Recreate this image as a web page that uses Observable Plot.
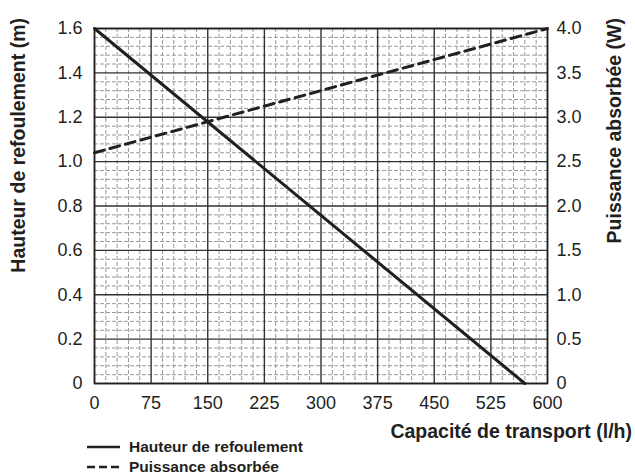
<!DOCTYPE html>
<html><head><meta charset="utf-8">
<script src="https://cdn.jsdelivr.net/npm/d3@7"></script>
<script src="https://cdn.jsdelivr.net/npm/@observablehq/plot@0.6"></script>
<style>body{margin:0;background:#fff}</style>
</head><body><div id="chart"></div>
<script>
// Data
const capacite = [0, 570];            // l/h
const hauteur = [1.6, 0];             // m
const capacitePuissance = [0, 600];   // l/h
const puissance = [2.6, 4.0];         // W
const xTicks = [0, 75, 150, 225, 300, 375, 450, 525, 600];
const yTicksLeft = [0, 0.2, 0.4, 0.6, 0.8, 1.0, 1.2, 1.4, 1.6];
const yTicksRight = [0, 0.5, 1.0, 1.5, 2.0, 2.5, 3.0, 3.5, 4.0];
const ratio = 2.5; // right axis value per left axis unit
const xTitle = "Capacité de transport (l/h)";
const yTitleLeft = "Hauteur de refoulement (m)";
const yTitleRight = "Puissance absorbée (W)";
const legendLabels = ["Hauteur de refoulement", "Puissance absorbée"];

const hauteurData = capacite.map((c, i) => ({c, v: hauteur[i]}));
const puissanceData = capacitePuissance.map((c, i) => ({c, v: puissance[i] / ratio}));
const xMinor = d3.range(0, 601, 15).filter(v => !xTicks.includes(v));
const yMinor = d3.range(0, 41).filter(i => i % 5 !== 0).map(i => i * 0.04);

const ink = "#231f20";
const fmt = d => d === 0 ? "0" : d.toFixed(1);

const plot = Plot.plot({
  width: 635, height: 476,
  marginLeft: 94, marginRight: 88, marginTop: 28, marginBottom: 93,
  style: {fontFamily: "'Liberation Sans', Arial, sans-serif", fontSize: "18px", color: ink, background: "#fff"},
  x: {domain: [0, 600]},
  y: {domain: [0, 1.6]},
  marks: [
    Plot.ruleX(xMinor, {stroke: "#999", strokeWidth: 1, strokeDasharray: "4,2"}),
    Plot.ruleY(yMinor, {stroke: "#999", strokeWidth: 1, strokeDasharray: "4,2"}),
    Plot.ruleX(xTicks, {stroke: "#333", strokeWidth: 1.4}),
    Plot.ruleY(yTicksLeft, {stroke: "#333", strokeWidth: 1.4}),
    Plot.frame({stroke: ink, strokeWidth: 1.6}),
    Plot.line(hauteurData, {x: "c", y: "v", stroke: ink, strokeWidth: 3}),
    Plot.line(puissanceData, {x: "c", y: "v", stroke: ink, strokeWidth: 3, strokeDasharray: "10,6"}),
    Plot.axisX({ticks: xTicks, tickSize: 0, tickPadding: 13, label: null, fill: ink}),
    Plot.axisY({ticks: yTicksLeft, tickSize: 0, tickPadding: 12, tickFormat: fmt, label: null, fill: ink}),
    Plot.axisY({anchor: "right", ticks: yTicksRight.map(v => v / ratio), tickSize: 0, tickPadding: 9,
      tickFormat: d => fmt(Math.round(d * ratio * 10) / 10), label: null, fill: ink})
  ]
});

const svg = d3.select(plot);
const titleStyle = s => s.attr("font-family", "'Liberation Sans', Arial, sans-serif")
  .attr("font-weight", "bold").attr("font-size", 19.5).attr("fill", ink);
svg.append("text").call(titleStyle).attr("text-anchor", "end")
  .attr("x", 632).attr("y", 438).text(xTitle);
svg.append("text").call(titleStyle).attr("text-anchor", "end")
  .attr("transform", "translate(25,18) rotate(-90)").text(yTitleLeft);
svg.append("text").call(titleStyle).attr("text-anchor", "end")
  .attr("transform", "translate(621,18) rotate(-90)").text(yTitleRight);

const leg = svg.append("g");
const legDash = [null, "8,4"];
legendLabels.forEach((lab, i) => {
  const y = 447 + i * 20;
  leg.append("line").attr("x1", 87).attr("x2", 120).attr("y1", y).attr("y2", y)
    .attr("stroke", ink).attr("stroke-width", 2.5).attr("stroke-dasharray", legDash[i]);
  leg.append("text").call(titleStyle).attr("font-size", 15.5).attr("text-anchor", "start")
    .attr("x", 129).attr("y", y + 4.5).text(lab);
});

document.getElementById("chart").appendChild(plot);
</script>
</body></html>
